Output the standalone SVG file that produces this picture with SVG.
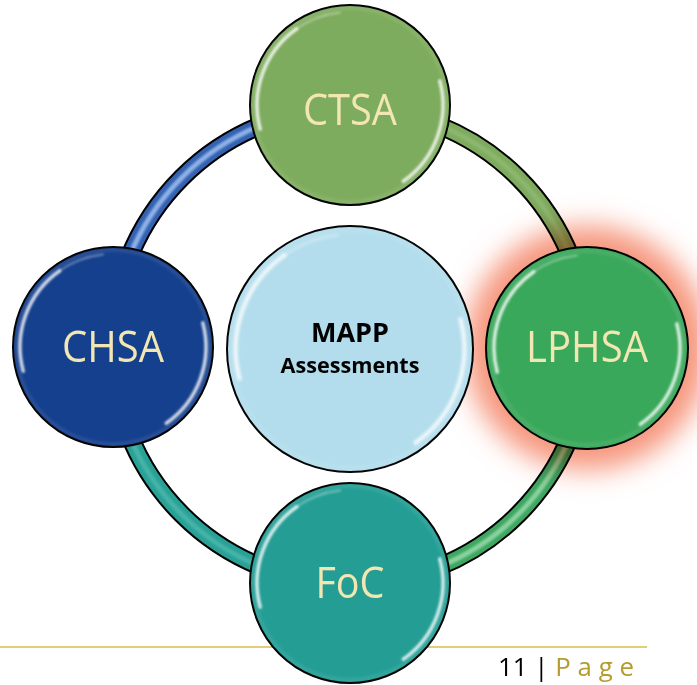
<svg xmlns="http://www.w3.org/2000/svg" xmlns:xlink="http://www.w3.org/1999/xlink" width="697" height="685" viewBox="0 0 697 685">
  <defs>
    <style>
      .outline { fill: none; stroke: #000; stroke-width: 19; }
      .band { fill: none; stroke-width: 15; }
      .shine { fill: none; stroke-width: 5; filter: url(#soft); }
      .node { stroke: #000; stroke-width: 2; }
      .lbl { font-family: "Open Sans", "Liberation Sans", sans-serif; font-size: 43px; fill: #f2e6b3; text-anchor: middle; }
      .ctr { font-family: "Open Sans", "Liberation Sans", sans-serif; font-weight: bold; fill: #000; text-anchor: middle; }
      .hl { fill: none; stroke: #fff; stroke-linecap: round; filter: url(#soft); }
    </style>
    <filter id="soft" x="-20%" y="-20%" width="140%" height="140%">
      <feGaussianBlur stdDeviation="1.3"/>
    </filter>
    <filter id="glow" x="-50%" y="-50%" width="200%" height="200%">
      <feGaussianBlur stdDeviation="14"/>
    </filter>
    <g id="bevel">
      <path class="hl" stroke-width="3.5" stroke-opacity="0.8" d="M -89.8 24.1 A 93 93 0 0 1 -53.3 -76.2"/>
      <path class="hl" stroke-width="2" stroke-opacity="0.35" d="M -53.3 -76.2 A 93 93 0 0 1 -10 -92.5"/>
      <path class="hl" stroke-width="3.5" stroke-opacity="0.8" d="M 89.8 -24.1 A 93 93 0 0 1 53.3 76.2"/>
      <circle r="97" fill="none" stroke="#fff" stroke-opacity="0.08" stroke-width="4" filter="url(#soft)"/>
    </g>
  </defs>

  <rect width="697" height="685" fill="#fff"/>

  <!-- footer line -->
  <line x1="0" y1="647" x2="647" y2="647" stroke="#e2cd78" stroke-width="2"/>

  <!-- connectors: ring segments -->
  <g id="connectors">
    <path class="outline" d="M 112 346 A 238 238 0 0 1 350 108"/>
    <path class="outline" d="M 350 108 A 238 238 0 0 1 588 346"/>
    <path class="outline" d="M 588 346 A 238 238 0 0 1 350 584"/>
    <path class="outline" d="M 350 584 A 238 238 0 0 1 112 346"/>

    <path class="band" stroke="#3462b3" d="M 112 346 A 238 238 0 0 1 350 108"/>
    <path class="shine" stroke="#8fb2e6" d="M 112 346 A 238 238 0 0 1 350 108"/>

    <path class="band" stroke="#7eab5e" d="M 350 108 A 238 238 0 0 1 588 346"/>
    <path class="shine" stroke="#93bc76" stroke-opacity="0.7" d="M 350 108 A 238 238 0 0 1 588 346"/>

    <path class="band" stroke="#3ea761" d="M 588 346 A 238 238 0 0 1 350 584"/>
    <path class="shine" stroke="#9edcae" stroke-opacity="0.8" d="M 588 346 A 238 238 0 0 1 350 584"/>

    <path class="band" stroke="#29a196" d="M 350 584 A 238 238 0 0 1 112 346"/>
    <path class="shine" stroke="#4cb8ad" stroke-opacity="0.8" d="M 350 584 A 238 238 0 0 1 112 346"/>
  </g>

  <!-- glow of LPHSA -->
  <g style="mix-blend-mode:multiply">
    <circle cx="587" cy="348" r="122" fill="#f6957c" filter="url(#glow)"/>
  </g>

  <g id="mapp" transform="translate(350 349)">
    <circle r="123" class="node" fill="#b3ddec"/>
    <use xlink:href="#bevel" transform="scale(1.23)"/>
    <text class="ctr" y="-7" font-size="27" textLength="78" lengthAdjust="spacingAndGlyphs">MAPP</text>
    <text class="ctr" y="24" font-size="21" textLength="139" lengthAdjust="spacingAndGlyphs">Assessments</text>
  </g>

  <g id="ctsa" transform="translate(350 105)">
    <circle r="100" class="node" fill="#7eac5e"/>
    <use xlink:href="#bevel"/>
    <text class="lbl" y="20" textLength="94" lengthAdjust="spacingAndGlyphs">CTSA</text>
  </g>

  <g id="lphsa" transform="translate(587 348)">
    <circle r="101" class="node" fill="#3aa85b"/>
    <use xlink:href="#bevel"/>
    <text class="lbl" y="14" textLength="122" lengthAdjust="spacingAndGlyphs">LPHSA</text>
  </g>

  <g id="chsa" transform="translate(113 347)">
    <circle r="100" class="node" fill="#15408d"/>
    <use xlink:href="#bevel"/>
    <text class="lbl" y="15" textLength="102" lengthAdjust="spacingAndGlyphs">CHSA</text>
  </g>

  <g id="foc" transform="translate(350 583)">
    <circle r="100" class="node" fill="#249e95"/>
    <use xlink:href="#bevel"/>
    <text class="lbl" y="15" textLength="69" lengthAdjust="spacingAndGlyphs">FoC</text>
  </g>

  <!-- footer text -->
  <text x="498" y="676" font-family="Open Sans, Liberation Sans, sans-serif" font-size="25" fill="#000" textLength="136" lengthAdjust="spacingAndGlyphs">11 | <tspan fill="#b59c2c">P a g e</tspan></text>
</svg>
